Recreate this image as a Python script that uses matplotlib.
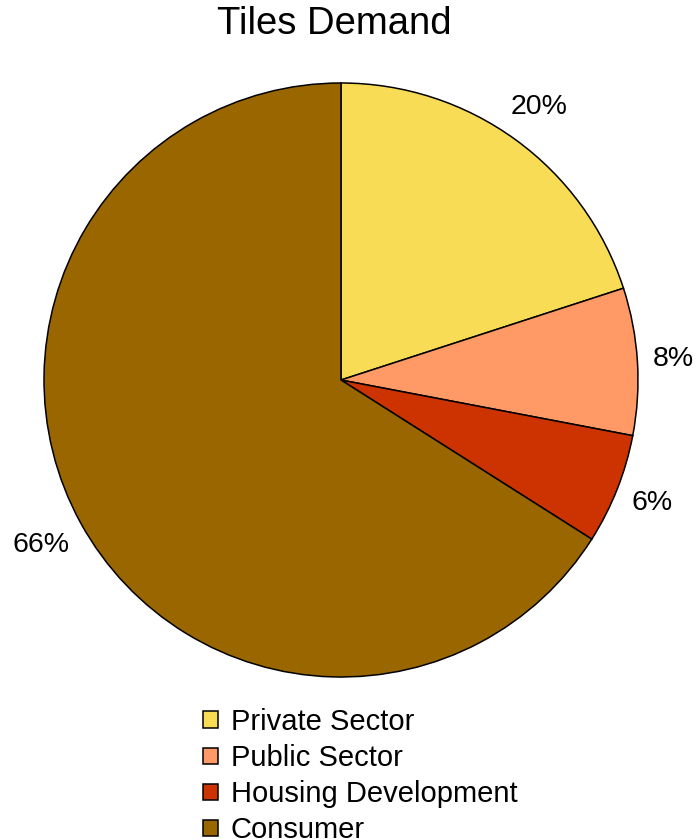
import numpy as np
import matplotlib.pyplot as plt
from matplotlib.patches import Patch

# данные
categories = ['Private Sector', 'Public Sector', 'Housing Development', 'Consumer']
shares = [20, 8, 6, 66]
colors = ['#F9DC55', '#FF9966', '#CC3300', '#996600']

plt.rcParams['font.family'] = ['Liberation Sans', 'DejaVu Sans']

fig = plt.figure(figsize=(6.95, 8.39), dpi=100)
ax = fig.add_axes([44 / 695, 1 - 677 / 839, 594 / 695, 594 / 839])

wedges, _ = ax.pie(
    shares, colors=colors, startangle=90, counterclock=False, radius=1.0,
    wedgeprops=dict(edgecolor='black', linewidth=1.1),
)
ax.set_xlim(-1, 1)
ax.set_ylim(-1, 1)
ax.set_aspect('equal')

# подписи процентов: центр текста за краем сектора с небольшим зазором
fig.canvas.draw()
renderer = fig.canvas.get_renderer()
px_per_unit = ax.get_window_extent().width / 2
for w, v in zip(wedges, shares):
    ang = np.deg2rad((w.theta1 + w.theta2) / 2)
    t = ax.text(0, 0, f'{v}%', ha='center', va='center', fontsize=20.5)
    bb = t.get_window_extent(renderer)
    hw = bb.width / 2 / px_per_unit
    hh = bb.height / 2 / px_per_unit * 0.8
    r = 1.0 + 0.05 + hw * abs(np.cos(ang)) + hh * abs(np.sin(ang))
    t.set_position((r * np.cos(ang), r * np.sin(ang)))

fig.text(334 / 695, 1 - 24 / 839, 'Tiles Demand', ha='center', va='center', fontsize=27.5)

handles = [Patch(facecolor=c, edgecolor='black', linewidth=1.1) for c in colors]
fig.legend(handles, categories, loc='upper left',
           bbox_to_anchor=(203 / 695, 1 - 708 / 839),
           frameon=False, fontsize=21, borderpad=0, borderaxespad=0,
           handlelength=0.5, handleheight=0.5, handletextpad=0.45,
           labelspacing=0.28)

fig.savefig('out.png', dpi=100)
